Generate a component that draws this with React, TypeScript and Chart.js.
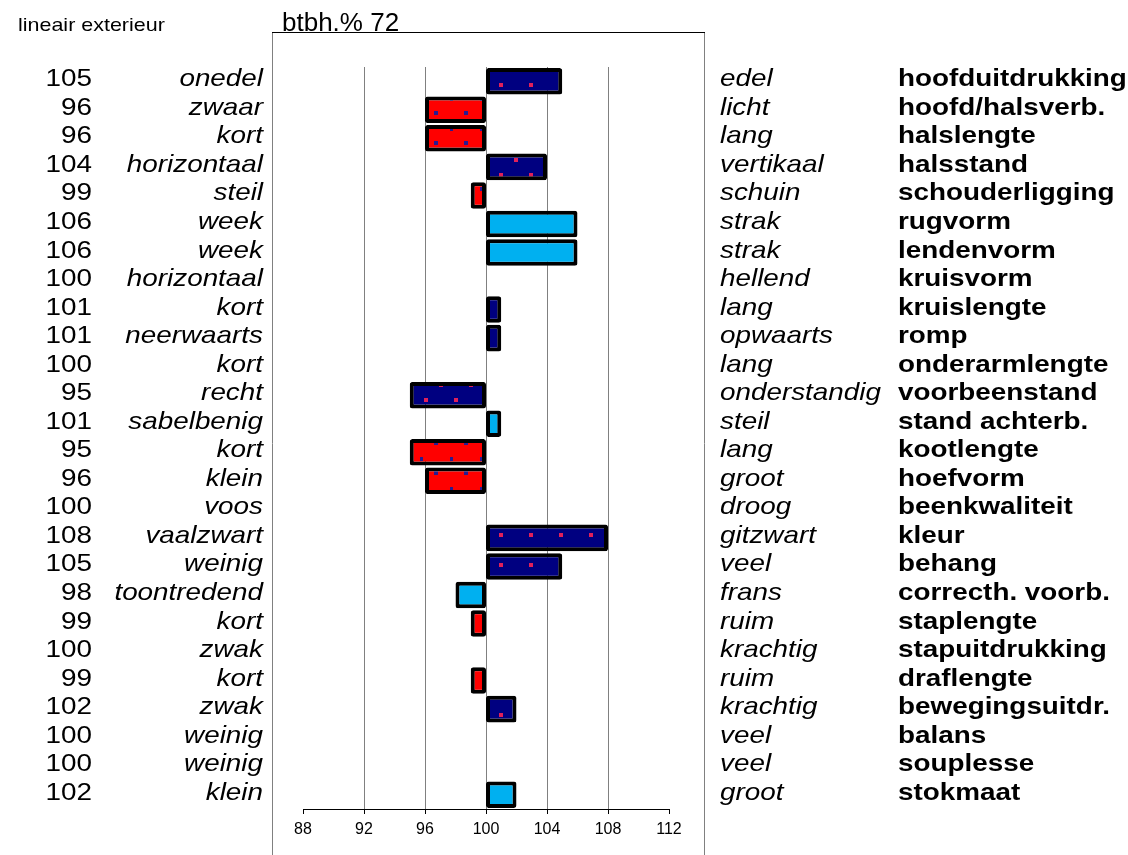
import React, { useEffect, useRef } from "react";
import { Chart, registerables } from "chart.js";

Chart.register(...registerables);

const traits = [
  "hoofduitdrukking", "hoofd/halsverb.", "halslengte", "halsstand", "schouderligging",
  "rugvorm", "lendenvorm", "kruisvorm", "kruislengte", "romp", "onderarmlengte",
  "voorbeenstand", "stand achterb.", "kootlengte", "hoefvorm", "beenkwaliteit",
  "kleur", "behang", "correcth. voorb.", "staplengte", "stapuitdrukking",
  "draflengte", "bewegingsuitdr.", "balans", "souplesse", "stokmaat",
];
const lowLabels = [
  "onedel", "zwaar", "kort", "horizontaal", "steil", "week", "week", "horizontaal",
  "kort", "neerwaarts", "kort", "recht", "sabelbenig", "kort", "klein", "voos",
  "vaalzwart", "weinig", "toontredend", "kort", "zwak", "kort", "zwak", "weinig",
  "weinig", "klein",
];
const highLabels = [
  "edel", "licht", "lang", "vertikaal", "schuin", "strak", "strak", "hellend",
  "lang", "opwaarts", "lang", "onderstandig", "steil", "lang", "groot", "droog",
  "gitzwart", "veel", "frans", "ruim", "krachtig", "ruim", "krachtig", "veel",
  "veel", "groot",
];
const scores = [
  105, 96, 96, 104, 99, 106, 106, 100, 101, 101, 100, 95, 101, 95, 96, 100,
  108, 105, 98, 99, 100, 99, 102, 100, 100, 102,
];
const kinds = [
  "navy", "red", "red", "navy", "red", "blue", "blue", "navy", "navy", "navy",
  "navy", "navy", "blue", "red", "red", "navy", "navy", "navy", "blue", "red",
  "navy", "red", "navy", "navy", "navy", "blue",
];
const baseValue = 100;
const xTicks = [88, 92, 96, 100, 104, 108, 112];
const chartTitle = "btbh.% 72";
const cornerTitle = "lineair exterieur";

function makePattern(bg: string, dot: string, pts: number[][]) {
  const c = document.createElement("canvas");
  c.width = 30;
  c.height = 30;
  const g = c.getContext("2d")!;
  g.fillStyle = bg;
  g.fillRect(0, 0, 30, 30);
  g.fillStyle = dot;
  pts.forEach(([x, y]) => g.fillRect(x - 2, y - 2, 4, 4));
  const ctx = document.createElement("canvas").getContext("2d")!;
  return ctx.createPattern(c, "repeat")!;
}

const FONT = "'Liberation Sans', Arial, sans-serif";

function drawText(
  ctx: CanvasRenderingContext2D,
  text: string,
  x: number,
  y: number,
  font: string,
  align: CanvasTextAlign,
  sx: number
) {
  ctx.save();
  ctx.translate(x, y);
  ctx.scale(sx, 1);
  ctx.font = font;
  ctx.fillStyle = "#000";
  ctx.textAlign = align;
  ctx.textBaseline = "alphabetic";
  ctx.fillText(text, 0, 0);
  ctx.restore();
}

export default function App() {
  const ref = useRef<HTMLCanvasElement | null>(null);

  useEffect(() => {
    if (!ref.current) return;
    const navyPat = makePattern("#000080", "#e0205a", [[6, 10], [21, 25]]);
    const redPat = makePattern("#ff0000", "#2a1a90", [[1, 9], [16, 23]]);
    const fills = kinds.map((k) =>
      k === "navy" ? navyPat : k === "red" ? redPat : "#00b0f0"
    );

    const sidePlugin = {
      id: "sideText",
      beforeDraw(chart: any) {
        const ctx = chart.ctx as CanvasRenderingContext2D;
        ctx.save();
        ctx.lineWidth = 1;
        ctx.strokeStyle = "#808080";
        ctx.beginPath();
        ctx.moveTo(272.5, 32);
        ctx.lineTo(272.5, 855);
        ctx.moveTo(704.5, 32);
        ctx.lineTo(704.5, 855);
        ctx.stroke();
        ctx.strokeStyle = "#000";
        ctx.beginPath();
        ctx.moveTo(272, 32.5);
        ctx.lineTo(705, 32.5);
        ctx.stroke();
        ctx.restore();
      },
      afterDraw(chart: any) {
        const ctx = chart.ctx as CanvasRenderingContext2D;
        const y = chart.scales.y;
        drawText(ctx, cornerTitle, 18, 31, `19px ${FONT}`, "left", 1.13);
        drawText(ctx, chartTitle, 282, 31, `26px ${FONT}`, "left", 1);
        traits.forEach((t, i) => {
          const py = y.getPixelForValue(i) + 5;
          drawText(ctx, String(scores[i]), 92, py, `24px ${FONT}`, "right", 1.16);
          drawText(ctx, lowLabels[i], 263, py, `italic 24px ${FONT}`, "right", 1.16);
          drawText(ctx, highLabels[i], 720, py, `italic 24px ${FONT}`, "left", 1.16);
          drawText(ctx, t, 898, py, `bold 24px ${FONT}`, "left", 1.16);
        });
      },
    };

    const chart = new Chart(ref.current, {
      type: "bar",
      data: {
        labels: traits,
        datasets: [
          {
            data: scores.map((v) => (v === baseValue ? null : [baseValue, v])) as any,
            backgroundColor: fills as any,
            borderColor: "#000",
            borderWidth: 4,
            borderRadius: 2.5,
            borderSkipped: false,
            barPercentage: 0.93,
            categoryPercentage: 1,
          },
        ],
      },
      options: {
        indexAxis: "y",
        animation: false,
        responsive: false,
        layout: { padding: { left: 303, right: 459, top: 67, bottom: 16 } },
        plugins: {
          legend: { display: false },
          tooltip: { enabled: false },
          title: { display: false },
        },
        scales: {
          x: {
            type: "linear",
            min: xTicks[0],
            max: xTicks[xTicks.length - 1],
            afterBuildTicks: (s: any) => {
              s.ticks = xTicks.map((v) => ({ value: v }));
            },
            afterFit: (s: any) => {
              s.height = 30;
            },
            ticks: {
              color: "#000",
              font: { family: FONT, size: 16 },
              padding: 6,
              maxRotation: 0,
              autoSkip: false,
            },
            grid: {
              color: (c: any) =>
                c.tick && (c.tick.value === 88 || c.tick.value === 112)
                  ? "rgba(0,0,0,0)"
                  : "#808080",
              tickColor: "#000",
              tickLength: 5,
              lineWidth: 1,
            },
            border: { display: true, color: "#000", width: 1 },
          },
          y: {
            type: "category",
            display: false,
            offset: true,
            grid: { display: false },
          },
        },
      },
      plugins: [sidePlugin],
    });
    return () => chart.destroy();
  }, []);

  return (
    <div style={{ position: "absolute", left: 0, top: 0, width: 1128, height: 855, background: "#fff" }}>
      <canvas ref={ref} width={1128} height={855} style={{ width: 1128, height: 855 }} />
    </div>
  );
}
